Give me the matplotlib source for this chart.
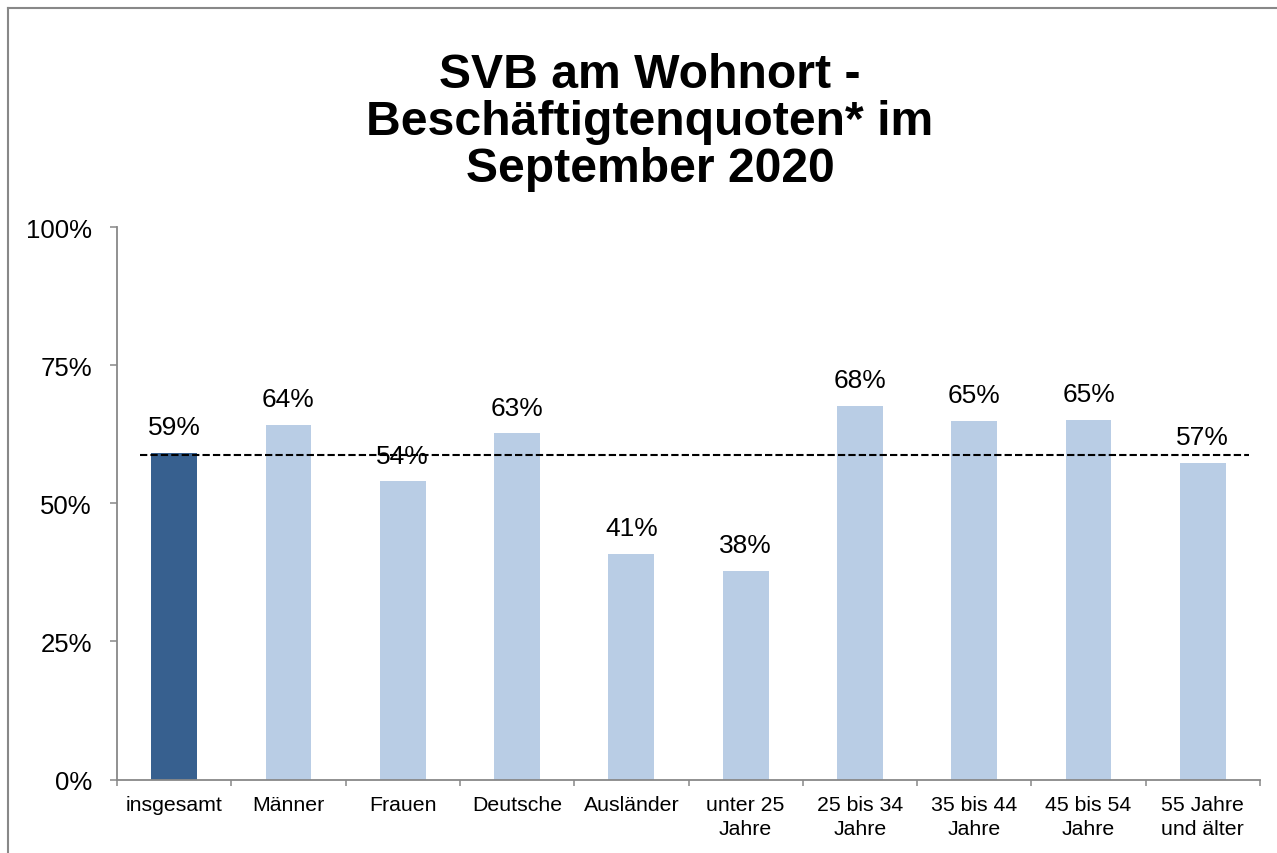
import matplotlib
matplotlib.use("Agg")
import matplotlib.pyplot as plt
from matplotlib.lines import Line2D
from matplotlib.ticker import FixedLocator, NullFormatter, FuncFormatter

plt.rcParams['font.family'] = ['Liberation Sans', 'DejaVu Sans']

categories = ["insgesamt", "Männer", "Frauen", "Deutsche", "Ausländer",
              "unter 25\nJahre", "25 bis 34\nJahre", "35 bis 44\nJahre",
              "45 bis 54\nJahre", "55 Jahre\nund älter"]
values = [59.2, 64.2, 54.0, 62.7, 40.9, 37.8, 67.6, 65.0, 65.1, 57.4]
average = 58.8
yticks = [0, 25, 50, 75, 100]
title = "SVB am Wohnort -\nBeschäftigtenquoten* im\nSeptember 2020"

dark = "#37608F"
light = "#B9CDE5"
axis_gray = "#888888"

W, H = 1277, 854
fig = plt.figure(figsize=(W / 100, H / 100), dpi=100)
ax = fig.add_axes([117 / W, 1 - 780.5 / H, (1260 - 117) / W, (780.5 - 228.3) / H])

x = list(range(len(categories)))
colors = [dark] + [light] * (len(categories) - 1)
bars = ax.bar(x, values, width=0.40, color=colors, edgecolor="none", zorder=2)

for xi, v in zip(x, values):
    ax.annotate(f"{round(v)}%", (xi, v), xytext=(0, 13.5), textcoords="offset points",
                ha="center", va="baseline", fontsize=19, color="black", zorder=4)

ax.plot([-0.3, len(categories) - 0.6], [average, average], color="black", lw=1.5,
        linestyle=(0, (3.5, 1.5)), zorder=3)

ax.set_xlim(-0.5, len(categories) - 0.5)
ax.set_ylim(0, 100)

ax.set_yticks(yticks)
ax.yaxis.set_major_formatter(FuncFormatter(lambda v, p: f"{int(v)}%"))
ax.tick_params(axis="y", direction="out", length=5, width=1.1, color=axis_gray,
               labelsize=18.5, pad=13)

ax.xaxis.set_major_locator(FixedLocator(x))
ax.set_xticklabels(categories, fontsize=15.3, linespacing=1.38)
ax.tick_params(axis="x", which="major", length=0, pad=11)
ax.xaxis.set_minor_locator(FixedLocator([i - 0.5 for i in range(len(categories) + 1)]))
ax.xaxis.set_minor_formatter(NullFormatter())
ax.tick_params(axis="x", which="minor", direction="out", length=4.5, width=1.1, color=axis_gray)

for s in ["top", "right"]:
    ax.spines[s].set_visible(False)
for s in ["left", "bottom"]:
    ax.spines[s].set_color(axis_gray)
    ax.spines[s].set_linewidth(1.3)

fig.text(0.509, 1 - 53 / H, title, ha="center", va="top", fontsize=34.7,
         fontweight="bold", linespacing=1.05)

# outer frame (left and top edges visible)
fig.add_artist(Line2D([8 / W, 8 / W], [0, 1 - 9 / H], transform=fig.transFigure,
                      color=axis_gray, lw=1.5))
fig.add_artist(Line2D([8 / W, 1], [1 - 9 / H, 1 - 9 / H], transform=fig.transFigure,
                      color=axis_gray, lw=1.5))

fig.savefig("out.png", dpi=100, facecolor="white")
